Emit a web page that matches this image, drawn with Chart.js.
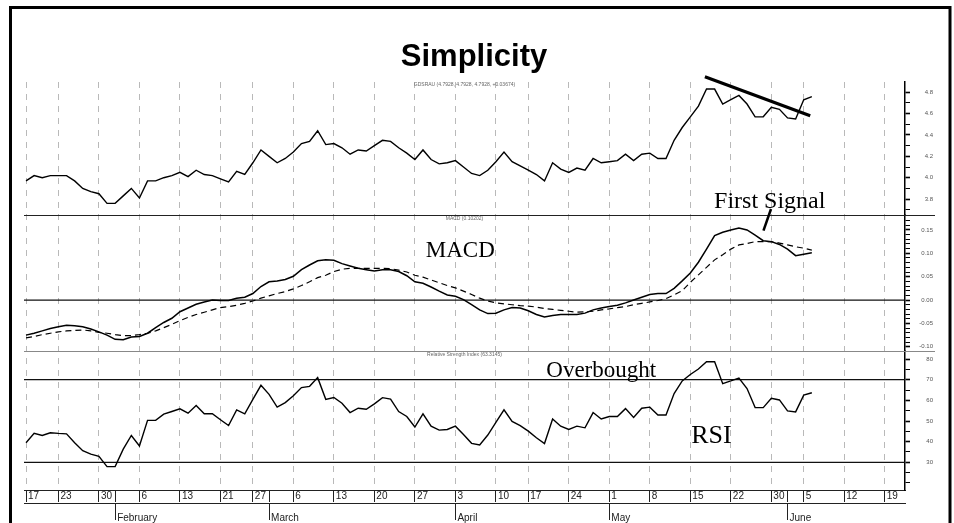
<!DOCTYPE html>
<html>
<head>
<meta charset="utf-8">
<title>Simplicity</title>
<script src="https://cdn.jsdelivr.net/npm/chart.js@4.4.0/dist/chart.umd.min.js"></script>
<style>
  html, body { margin: 0; padding: 0; background: #fff; }
  canvas { display: block; }
</style>
</head>
<body>
<canvas id="chart" width="954" height="523"></canvas>
<script>
// trading days from Jan 17 (index 0) to Jun 6 (index 97)
const price = [
  3.97, 4.02, 4.00, 4.02, 4.02, 4.02, 3.97, 3.90, 3.87, 3.85,
  3.76, 3.76, 3.83, 3.90, 3.81, 3.97, 3.97, 4.00, 4.02, 4.05,
  4.01, 4.07, 4.03, 4.02, 3.99, 3.96, 4.06, 4.03, 4.14, 4.26,
  4.20, 4.14, 4.18, 4.24, 4.32, 4.34, 4.44, 4.31, 4.32, 4.28,
  4.22, 4.26, 4.25, 4.30, 4.35, 4.34, 4.28, 4.23, 4.17, 4.26,
  4.17, 4.13, 4.14, 4.16, 4.10, 4.04, 4.02, 4.07, 4.15, 4.24,
  4.15, 4.11, 4.07, 4.03, 3.97, 4.14, 4.08, 4.05, 4.09, 4.07,
  4.18, 4.14, 4.15, 4.16, 4.22, 4.16, 4.22, 4.23, 4.18, 4.18,
  4.35, 4.47, 4.57, 4.67, 4.83, 4.83, 4.69, 4.73, 4.77, 4.69,
  4.57, 4.57, 4.66, 4.64, 4.56, 4.55, 4.73, 4.76
];
const macd = [
  -0.075, -0.071, -0.066, -0.061, -0.057, -0.054, -0.055, -0.057, -0.062, -0.068,
  -0.075, -0.084, -0.085, -0.079, -0.078, -0.071, -0.059, -0.048, -0.039, -0.025,
  -0.017, -0.009, -0.004, 0.000, -0.001, -0.001, 0.004, 0.006, 0.014, 0.029,
  0.039, 0.041, 0.044, 0.051, 0.065, 0.075, 0.084, 0.086, 0.085, 0.078,
  0.073, 0.068, 0.065, 0.062, 0.065, 0.065, 0.061, 0.052, 0.039, 0.036,
  0.028, 0.019, 0.011, 0.008, 0.001, -0.010, -0.021, -0.029, -0.028, -0.021,
  -0.016, -0.017, -0.023, -0.031, -0.036, -0.033, -0.031, -0.031, -0.031, -0.028,
  -0.021, -0.017, -0.014, -0.011, -0.006, 0.000, 0.006, 0.012, 0.014, 0.014,
  0.025, 0.041, 0.058, 0.081, 0.109, 0.138, 0.145, 0.150, 0.154, 0.150,
  0.139, 0.127, 0.125, 0.119, 0.109, 0.095, 0.098, 0.101
];
const signal = [
  -0.081, -0.078, -0.074, -0.071, -0.068, -0.066, -0.065, -0.064, -0.066, -0.069,
  -0.071, -0.074, -0.076, -0.076, -0.074, -0.071, -0.066, -0.059, -0.052, -0.044,
  -0.037, -0.031, -0.026, -0.021, -0.016, -0.014, -0.011, -0.007, -0.002, 0.004,
  0.009, 0.014, 0.018, 0.024, 0.031, 0.039, 0.048, 0.053, 0.061, 0.066,
  0.068, 0.068, 0.068, 0.068, 0.068, 0.067, 0.064, 0.060, 0.053, 0.049,
  0.043, 0.037, 0.031, 0.026, 0.019, 0.012, 0.004, -0.002, -0.006, -0.008,
  -0.010, -0.012, -0.013, -0.015, -0.018, -0.020, -0.022, -0.024, -0.026, -0.025,
  -0.024, -0.021, -0.019, -0.016, -0.014, -0.010, -0.007, -0.004, -0.001, 0.003,
  0.011, 0.020, 0.038, 0.054, 0.070, 0.086, 0.097, 0.109, 0.118, 0.121,
  0.125, 0.125, 0.125, 0.122, 0.118, 0.114, 0.111, 0.107
];
const rsi = [
  39.5, 44.0, 43.0, 44.3, 44.0, 43.8, 39.5, 35.6, 34.0, 32.9,
  27.9, 27.9, 36.4, 43.0, 37.9, 50.3, 50.3, 53.3, 54.6, 55.9,
  53.8, 57.5, 53.5, 53.5, 50.6, 47.8, 55.4, 53.5, 60.5, 67.3,
  62.9, 56.7, 58.9, 62.2, 66.2, 66.8, 71.0, 60.5, 61.4, 58.6,
  54.1, 56.2, 55.7, 58.3, 61.3, 60.6, 54.6, 52.2, 47.1, 53.5,
  47.5, 45.6, 45.9, 47.5, 43.5, 39.2, 38.4, 43.2, 49.4, 55.4,
  49.8, 47.8, 45.1, 41.9, 39.1, 51.0, 47.5, 45.9, 47.5, 46.7,
  54.1, 51.0, 52.2, 52.2, 56.0, 51.7, 56.2, 56.7, 52.9, 52.9,
  63.3, 69.4, 72.5, 75.2, 78.7, 78.7, 68.1, 69.4, 70.8, 65.7,
  56.5, 56.5, 61.0, 60.2, 54.9, 54.4, 62.5, 63.7
];
const trendX = [83.8, 96.8];
const trendY = [4.946, 4.581];

const weekTicks = [0, 4, 9, 14, 19, 24, 28, 33, 38, 43, 48, 53, 58, 62, 67, 72, 77, 82, 87, 92, 96, 101, 106];
const weekLabels = ['17', '23', '30', '6', '13', '21', '27', '6', '13', '20', '27', '3', '10', '17', '24', '1', '8', '15', '22', '30', '5', '12', '19'];
const monthTicks = [11, 30, 53, 72, 94];
const monthLabels = ['February', 'March', 'April', 'May', 'June'];

const priceTicks = [3.8, 4.0, 4.2, 4.4, 4.6, 4.8];
const priceTickLabels = ['3.8', '4.0', '4.2', '4.4', '4.6', '4.8'];
const macdTicks = [-0.10, -0.05, 0, 0.05, 0.10, 0.15];
const macdTickLabels = ['-0.10', '-0.05', '0.00', '0.05', '0.10', '0.15'];
const rsiTicks = [30, 40, 50, 60, 70, 80];
const rsiTickLabels = ['30', '40', '50', '60', '70', '80'];

const macdLevels = [0];
const rsiLevels = [70, 30];

const xy = arr => arr.map((v, i) => ({ x: i, y: v }));

function steps(from, to, step) {
  const out = [];
  for (let k = 0; from + k * step <= to + 1e-9; k++) out.push(+(from + k * step).toFixed(4));
  return out;
}

function findTick(vals, v) {
  return vals.findIndex(t => Math.abs(t - v) < 1e-6);
}

// one stacked panel axis on the right
function panelAxis(min, max, weight, minor, major, majorText) {
  return {
    type: 'linear',
    position: 'right',
    stack: 'panels',
    stackWeight: weight,
    min: min,
    max: max,
    afterBuildTicks: s => { s.ticks = minor.map(v => ({ value: v })); },
    afterFit: s => { s.width = 28; },
    grid: {
      drawOnChartArea: false,
      tickLength: 5,
      tickColor: '#000',
      tickWidth: c => (c.tick && findTick(major, c.tick.value) >= 0 ? 1.6 : 1)
    },
    border: { color: '#000', width: 1.5 },
    ticks: {
      autoSkip: false,
      crossAlign: 'far',
      padding: 4,
      color: '#555',
      font: { size: 6 },
      callback: v => {
        const k = findTick(major, v);
        return k < 0 ? '' : majorText[k];
      }
    }
  };
}

const dayTicks = [...new Set([...weekTicks, ...monthTicks])].sort((a, b) => a - b);

const decor = {
  id: 'decor',
  beforeDraw(chart) {
    const ctx = chart.ctx;
    ctx.save();
    ctx.fillStyle = '#fff';
    ctx.fillRect(0, 0, chart.width, chart.height);
    ctx.restore();
  },
  beforeDatasetsDraw(chart) {
    const { ctx, chartArea: a, scales: s } = chart;
    ctx.save();
    // panel separators
    ctx.lineWidth = 1;
    ctx.strokeStyle = '#222';
    ctx.beginPath();
    ctx.moveTo(a.left, Math.round(s.yMacd.top) + 0.5);
    ctx.lineTo(a.right + 30, Math.round(s.yMacd.top) + 0.5);
    ctx.stroke();
    ctx.strokeStyle = '#888';
    ctx.beginPath();
    ctx.moveTo(a.left, Math.round(s.yRsi.top) + 0.5);
    ctx.lineTo(a.right + 30, Math.round(s.yRsi.top) + 0.5);
    ctx.stroke();
    // reference levels
    ctx.strokeStyle = '#111';
    ctx.lineWidth = 1.3;
    macdLevels.forEach(v => {
      const y = s.yMacd.getPixelForValue(v);
      ctx.beginPath(); ctx.moveTo(a.left, y); ctx.lineTo(a.right, y); ctx.stroke();
    });
    rsiLevels.forEach(v => {
      const y = s.yRsi.getPixelForValue(v);
      ctx.beginPath(); ctx.moveTo(a.left, y); ctx.lineTo(a.right, y); ctx.stroke();
    });
    ctx.restore();
  },
  afterDraw(chart) {
    const { ctx, chartArea: a, scales: s } = chart;
    const cx = (a.left + a.right) / 2;
    ctx.save();
    // small panel captions
    ctx.fillStyle = '#666';
    ctx.font = '5px "Liberation Sans"';
    ctx.textAlign = 'center';
    ctx.textBaseline = 'middle';
    ctx.fillText('GDSRAU (4.7928, 4.7928, 4.7928, +0.03674)', cx, s.yPrice.top + 2.5);
    ctx.fillText('MACD (0.10202)', cx, s.yMacd.top + 4);
    ctx.fillText('Relative Strength Index (63.3145)', cx, s.yRsi.top + 4);

    // annotations
    ctx.fillStyle = '#000';
    ctx.textBaseline = 'alphabetic';
    const notes = [
      ['First Signal', 91.8, 'yPrice', 3.717, 24],
      ['MACD', 53.6, 'yMacd', 0.093, 23],
      ['Overbought', 71.0, 'yRsi', 71.1, 23],
      ['RSI', 84.6, 'yRsi', 39.2, 26]
    ];
    notes.forEach(([t, i, ax, v, size]) => {
      ctx.font = size + 'px "Liberation Serif"';
      ctx.fillText(t, s.x.getPixelForValue(i), s[ax].getPixelForValue(v));
    });
    ctx.strokeStyle = '#000';
    ctx.lineWidth = 2.5;
    ctx.beginPath();
    ctx.moveTo(s.x.getPixelForValue(91.96), s.yPrice.getPixelForValue(3.707));
    ctx.lineTo(s.x.getPixelForValue(91.03), s.yMacd.getPixelForValue(0.1485));
    ctx.stroke();

    // outer frame
    ctx.lineWidth = 3;
    ctx.strokeRect(10.5, 7.5, 939.5, 530);
    ctx.restore();
  }
};

Chart.defaults.font.family = '"Liberation Sans", Arial, sans-serif';

new Chart(document.getElementById('chart').getContext('2d'), {
  type: 'line',
  data: {
    datasets: [
      { data: xy(price), yAxisID: 'yPrice', borderColor: '#000', borderWidth: 1.4 },
      { data: trendX.map((x, k) => ({ x: x, y: trendY[k] })), yAxisID: 'yPrice', borderColor: '#000', borderWidth: 3.2, clip: false },
      { data: xy(signal), yAxisID: 'yMacd', borderColor: '#000', borderWidth: 1.2, borderDash: [6, 4] },
      { data: xy(macd), yAxisID: 'yMacd', borderColor: '#000', borderWidth: 1.5 },
      { data: xy(rsi), yAxisID: 'yRsi', borderColor: '#000', borderWidth: 1.4 }
    ]
  },
  options: {
    responsive: false,
    animation: false,
    events: [],
    layout: { padding: { top: 39, left: 15, right: 21, bottom: 0 } },
    elements: { point: { radius: 0 }, line: { tension: 0, fill: false } },
    plugins: {
      legend: { display: false },
      tooltip: { enabled: false },
      title: {
        display: true,
        text: 'Simplicity',
        color: '#000',
        font: { size: 31, weight: 'bold' },
        padding: { top: 0, bottom: 5.8 }
      }
    },
    scales: {
      x: {
        type: 'linear',
        position: 'bottom',
        weight: 0,
        min: -0.25,
        max: 108.5,
        afterBuildTicks: s => { s.ticks = dayTicks.map(v => ({ value: v })); },
        afterFit: s => { s.height = 13; },
        grid: {
          color: c => (c.tick && weekTicks.includes(c.tick.value) ? '#b9b9b9' : 'rgba(0,0,0,0)'),
          lineWidth: 1,
          tickLength: 12,
          tickColor: '#222',
          tickWidth: 1
        },
        border: { color: '#222', width: 1, dash: [6, 6] },
        ticks: {
          autoSkip: false,
          maxRotation: 0,
          align: 'start',
          labelOffset: 2,
          padding: -11.5,
          color: '#222',
          font: { size: 10 },
          callback: v => {
            const k = weekTicks.indexOf(v);
            return k < 0 ? '' : weekLabels[k];
          }
        }
      },
      xm: {
        type: 'linear',
        position: 'bottom',
        weight: 1,
        min: -0.25,
        max: 108.5,
        afterBuildTicks: s => { s.ticks = monthTicks.map(v => ({ value: v })); },
        afterFit: s => { s.height = 20; },
        grid: { drawOnChartArea: false, tickLength: 17, tickColor: '#222', tickWidth: 1 },
        border: { color: '#222', width: 1 },
        ticks: {
          autoSkip: false,
          maxRotation: 0,
          align: 'start',
          labelOffset: 2,
          padding: -8,
          color: '#222',
          font: { size: 10 },
          callback: v => {
            const k = monthTicks.indexOf(v);
            return k < 0 ? '' : monthLabels[k];
          }
        }
      },
      // empty left margin so the title sits over the middle of the frame
      yPad: {
        type: 'linear',
        position: 'left',
        grid: { display: false },
        border: { display: false },
        ticks: { display: false },
        afterFit: s => { s.width = 9; }
      },
      yPrice: panelAxis(3.651, 4.896, 133, steps(3.7, 4.8, 0.1), priceTicks, priceTickLabels),
      yMacd: panelAxis(-0.109, 0.182, 136, steps(-0.10, 0.18, 0.01), macdTicks, macdTickLabels),
      yRsi: panelAxis(16.6, 83.9, 139, steps(20, 80, 5), rsiTicks, rsiTickLabels)
    }
  },
  plugins: [decor]
});
</script>
</body>
</html>
